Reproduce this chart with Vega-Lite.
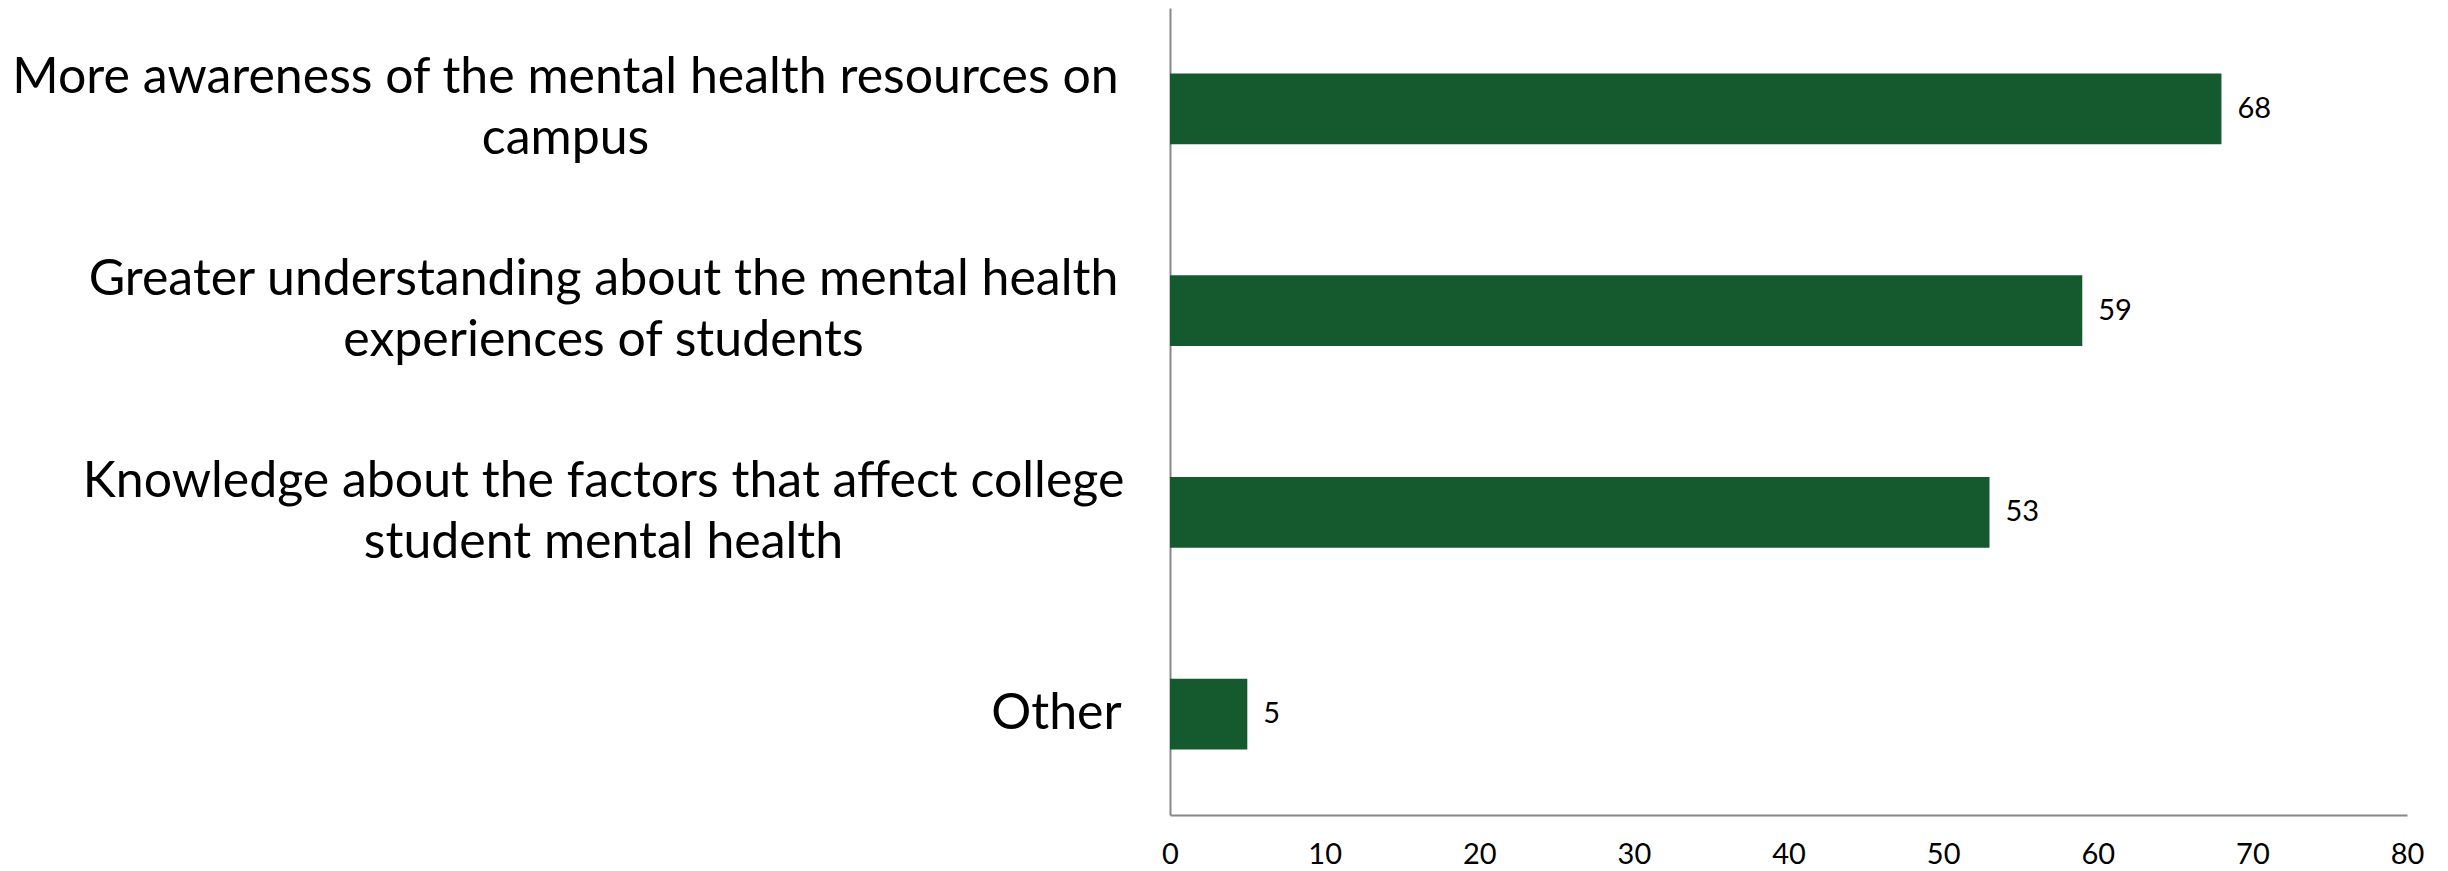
{
  "$schema": "https://vega.github.io/schema/vega-lite/v6.json",
  "autosize": "none",
  "padding": {"left": 1170, "top": 8, "right": 41, "bottom": 56},
  "width": 1237,
  "height": 807,
  "background": "white",
  "config": {"view": {"stroke": null}, "font": "Lato"},
  "data": {
    "values": [
      {"item": "More awareness of the mental health resources on\ncampus", "count": 68},
      {"item": "Greater understanding about the mental health\nexperiences of students", "count": 59},
      {"item": "Knowledge about the factors that affect college\nstudent mental health", "count": 53},
      {"item": "Other", "count": 5}
    ]
  },
  "encoding": {
    "y": {
      "field": "item",
      "type": "nominal",
      "sort": null,
      "scale": {"paddingInner": 0.65, "paddingOuter": 0.325},
      "axis": {
        "title": null,
        "ticks": false,
        "domainColor": "#888888",
        "domainWidth": 2,
        "labelExpr": "split(datum.label, '\\n')",
        "labelFont": "Lato",
        "labelFontSize": 50,
        "labelLineHeight": 61,
        "labelColor": "black",
        "labelAlign": "center",
        "labelBaseline": "middle",
        "labelLimit": 0,
        "labelOffset": {
          "condition": {"test": "datum.value == 'Other'", "value": 0},
          "value": -30.5
        },
        "labelPadding": {
          "condition": [
            {"test": "datum.value == 'Other'", "value": 114},
            {"test": "substring(datum.value, 0, 4) == 'More'", "value": 605}
          ],
          "value": 567
        }
      }
    },
    "x": {
      "field": "count",
      "type": "quantitative",
      "scale": {"domain": [0, 80]},
      "axis": {
        "title": null,
        "grid": false,
        "ticks": false,
        "values": [0, 10, 20, 30, 40, 50, 60, 70, 80],
        "domainColor": "#888888",
        "domainWidth": 2,
        "labelFont": "Lato",
        "labelFontSize": 29,
        "labelColor": "black",
        "labelPadding": 25,
        "labelFlush": false
      }
    }
  },
  "layer": [
    {"mark": {"type": "bar", "color": "#155A2F"}},
    {
      "mark": {"type": "text", "align": "left", "baseline": "middle", "dx": 16, "fontSize": 29, "font": "Lato", "color": "black"},
      "encoding": {"text": {"field": "count", "type": "quantitative"}}
    }
  ]
}
